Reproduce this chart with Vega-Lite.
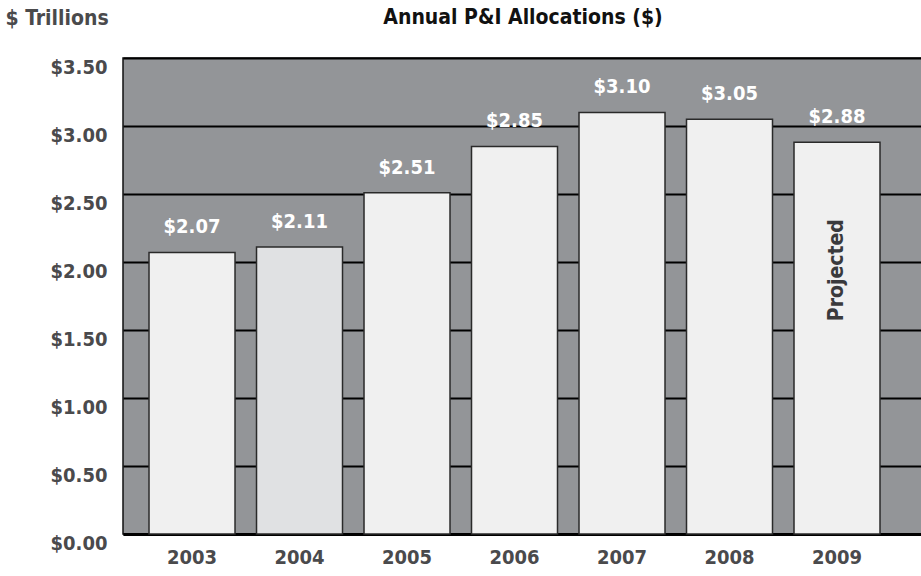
{
  "$schema": "https://vega.github.io/schema/vega-lite/v6.json",
  "autosize": "none",
  "width": 800,
  "height": 476,
  "padding": {"left": 123, "top": 58, "right": 0, "bottom": 42},
  "background": "white",
  "title": {"text": "Annual P&I Allocations ($)", "anchor": "middle", "font": "DejaVu Sans Condensed", "fontSize": 21, "fontWeight": "bold", "color": "#111111", "offset": 0, "dy": 21},
  "config": {
    "view": {"fill": "#939598", "stroke": "#111111", "strokeWidth": 1.5},
    "font": "DejaVu Sans Condensed"
  },
  "data": {"values": [
    {"year": "2003", "value": 2.07, "label": "$2.07"},
    {"year": "2004", "value": 2.11, "label": "$2.11"},
    {"year": "2005", "value": 2.51, "label": "$2.51"},
    {"year": "2006", "value": 2.85, "label": "$2.85"},
    {"year": "2007", "value": 3.10, "label": "$3.10"},
    {"year": "2008", "value": 3.05, "label": "$3.05"},
    {"year": "2009", "value": 2.88, "label": "$2.88"}
  ]},
  "encoding": {
    "x": {"field": "year", "type": "nominal", "sort": null,
      "scale": {"paddingInner": 0.2, "paddingOuter": 0.321, "align": 0.377},
      "axis": {"title": null, "labelAngle": 0, "ticks": false, "labelPadding": 13, "labelFontSize": 20, "labelFontWeight": "bold", "labelColor": "#4a4a4c", "domainColor": "#000000", "domainWidth": 3, "grid": false}},
    "y": {"field": "value", "type": "quantitative",
      "scale": {"domain": [0, 3.5], "nice": false},
      "axis": {"values": [0, 0.5, 1, 1.5, 2, 2.5, 3, 3.5], "format": "$.2f", "ticks": false, "domain": false, "labelPadding": 16, "labelOffset": 9, "labelFontSize": 20, "labelFontWeight": "bold", "labelColor": "#4a4a4c", "gridColor": "#000000", "gridWidth": 2, "gridOpacity": 1,
        "title": "$ Trillions", "titleAngle": 0, "titleAlign": "left", "titleBaseline": "middle", "titleX": -118, "titleY": -40, "titleFontSize": 21, "titleFontWeight": "bold", "titleColor": "#4a4a4c"}}
  },
  "layer": [
    {"mark": {"type": "bar", "stroke": "#2a2a2a", "strokeWidth": 1.5},
     "encoding": {"fill": {"condition": {"test": "datum.year === '2004'", "value": "#e0e1e3"}, "value": "#f0f0f0"}}},
    {"mark": {"type": "text", "dy": -25, "baseline": "middle", "align": "center", "color": "white", "fontSize": 20, "fontWeight": "bold"},
     "encoding": {"text": {"field": "label"}}},
    {"data": {"values": [{"year": "2009", "value": 1.94, "note": "Projected"}]},
     "mark": {"type": "text", "angle": 270, "baseline": "middle", "align": "center", "color": "#3a3a3c", "fontSize": 21, "fontWeight": "bold"},
     "encoding": {"text": {"field": "note"}}}
  ]
}
